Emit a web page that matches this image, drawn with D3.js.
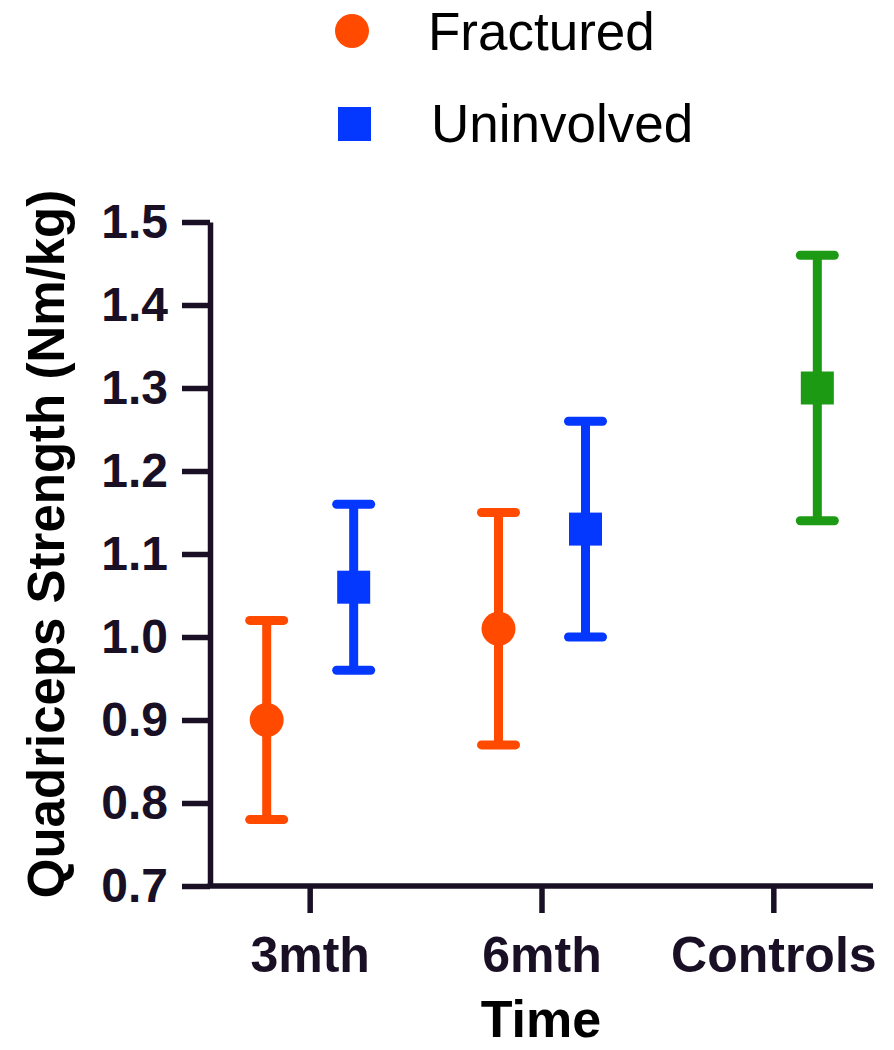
<!DOCTYPE html>
<html>
<head>
<meta charset="utf-8">
<script src="https://cdn.jsdelivr.net/npm/d3@7"></script>
<style>
  html, body { margin: 0; padding: 0; background: #ffffff; }
  svg { display: block; font-family: "Liberation Sans", Arial, Helvetica, sans-serif; }
</style>
</head>
<body>
<svg id="chart" width="894" height="1050"></svg>
<script>
// ---- Data ----
const categories = ["3mth", "6mth", "Controls"];
const seriesNames = ["Fractured", "Uninvolved"];

const fracturedMean = [0.90, 1.01, null];
const fracturedLow  = [0.78, 0.87, null];
const fracturedHigh = [1.02, 1.15, null];

const uninvolvedMean = [1.06, 1.13, null];
const uninvolvedLow  = [0.96, 1.00, null];
const uninvolvedHigh = [1.16, 1.26, null];

const controlsMean = [null, null, 1.30];
const controlsLow  = [null, null, 1.14];
const controlsHigh = [null, null, 1.46];

const yTicks = [0.7, 0.8, 0.9, 1.0, 1.1, 1.2, 1.3, 1.4, 1.5];

// ---- Styles ----
const axisColor = "#1a1026";
const colors = { Fractured: "#ff4a00", Uninvolved: "#0538ff", Controls: "#1c9a14" };
const shapes = { Fractured: "circle", Uninvolved: "square", Controls: "square" };
const slot = { Fractured: "Fractured", Uninvolved: "Uninvolved", Controls: "Uninvolved" };

const svg = d3.select("#chart");

const x = d3.scalePoint().domain(categories).range([210, 873]).padding(0.43);
const dodge = d3.scalePoint().domain(seriesNames).range([-43, 44]);
const y = d3.scaleLinear().domain([0.7, 1.5]).range([886, 222]);

// ---- Build points ----
const groups = [
  { name: "Fractured", mean: fracturedMean, low: fracturedLow, high: fracturedHigh },
  { name: "Uninvolved", mean: uninvolvedMean, low: uninvolvedLow, high: uninvolvedHigh },
  { name: "Controls", mean: controlsMean, low: controlsLow, high: controlsHigh }
];
const points = [];
groups.forEach(g => {
  categories.forEach((c, i) => {
    if (g.mean[i] != null) {
      points.push({ series: g.name, cat: c, mean: g.mean[i], low: g.low[i], high: g.high[i] });
    }
  });
});
const px = d => x(d.cat) + dodge(slot[d.series]);

// ---- Axes ----
const yAxis = svg.append("g")
  .attr("transform", "translate(210,0)")
  .call(d3.axisLeft(y).tickValues(yTicks).tickFormat(d3.format(".1f"))
        .tickSize(28).tickSizeOuter(0).tickPadding(14));
yAxis.select(".domain").attr("stroke", axisColor).attr("stroke-width", 5.5);
yAxis.selectAll(".tick line").attr("stroke", axisColor).attr("stroke-width", 5.5);
yAxis.selectAll(".tick text")
  .attr("fill", axisColor)
  .style("font-size", "48px").style("font-weight", "bold")
  .style("font-family", "'Liberation Sans', Arial, Helvetica, sans-serif");

const xAxis = svg.append("g")
  .attr("transform", "translate(0,886)")
  .call(d3.axisBottom(x).tickSize(27).tickSizeOuter(0));
xAxis.select(".domain").attr("stroke", axisColor).attr("stroke-width", 5.5)
  .attr("d", "M207.5,0H873");
xAxis.selectAll(".tick line").attr("stroke", axisColor).attr("stroke-width", 5.5);
xAxis.selectAll(".tick text")
  .attr("fill", axisColor)
  .attr("y", 86).attr("dy", 0)
  .style("font-size", "50px").style("font-weight", "bold")
  .style("font-family", "'Liberation Sans', Arial, Helvetica, sans-serif");

// ---- Axis titles ----
svg.append("text")
  .attr("transform", "translate(64,544) rotate(-90)")
  .attr("text-anchor", "middle")
  .attr("fill", "#000")
  .style("font-size", "51px").style("font-weight", "bold")
  .text("Quadriceps Strength (Nm/kg)");

svg.append("text")
  .attr("x", 541).attr("y", 1037)
  .attr("text-anchor", "middle")
  .attr("fill", "#000")
  .style("font-size", "52px").style("font-weight", "bold")
  .text("Time");

// ---- Error bars ----
const bars = svg.append("g").selectAll("g").data(points).join("g")
  .attr("stroke", d => colors[d.series])
  .attr("stroke-width", 9)
  .attr("stroke-linecap", "round");
bars.append("line")
  .attr("x1", px).attr("x2", px)
  .attr("y1", d => y(d.high)).attr("y2", d => y(d.low))
  .attr("stroke-linecap", "butt");
bars.append("line")
  .attr("x1", d => px(d) - 17).attr("x2", d => px(d) + 17)
  .attr("y1", d => y(d.high)).attr("y2", d => y(d.high));
bars.append("line")
  .attr("x1", d => px(d) - 17).attr("x2", d => px(d) + 17)
  .attr("y1", d => y(d.low)).attr("y2", d => y(d.low));

// ---- Markers ----
const marks = svg.append("g");
marks.selectAll("circle").data(points.filter(d => shapes[d.series] === "circle")).join("circle")
  .attr("cx", px).attr("cy", d => y(d.mean)).attr("r", 17)
  .attr("fill", d => colors[d.series]);
marks.selectAll("rect").data(points.filter(d => shapes[d.series] === "square")).join("rect")
  .attr("x", d => px(d) - 16.5).attr("y", d => y(d.mean) - 16.5)
  .attr("width", 33).attr("height", 33)
  .attr("fill", d => colors[d.series]);

// ---- Legend ----
const legend = svg.append("g");
legend.append("circle").attr("cx", 352).attr("cy", 31).attr("r", 17).attr("fill", colors.Fractured);
legend.append("rect").attr("x", 338).attr("y", 107).attr("width", 33).attr("height", 34).attr("fill", colors.Uninvolved);
legend.append("text").attr("x", 428).attr("y", 50).attr("fill", "#000")
  .style("font-size", "53px").text(seriesNames[0]);
legend.append("text").attr("x", 431).attr("y", 142).attr("fill", "#000")
  .style("font-size", "53px").text(seriesNames[1]);
</script>
</body>
</html>
